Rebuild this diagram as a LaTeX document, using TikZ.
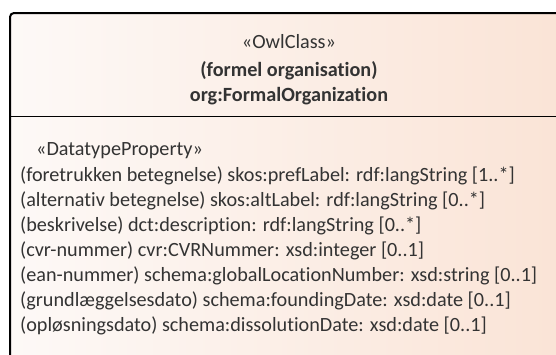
\documentclass[tikz,border=0pt]{standalone}
\usepackage{fontspec}
\setmainfont{Carlito}[Ligatures=NoCommon]
\definecolor{txt}{HTML}{333333}
\definecolor{gl}{HTML}{FDF9F7}
\definecolor{gr}{HTML}{FAE3D5}
\tikzset{
  attr/.style={anchor=base west, inner sep=0pt, text=txt, font=\fontsize{20.2}{24}\selectfont},
  head/.style={anchor=base, inner sep=0pt, text=txt, font=\fontsize{20.2}{24}\selectfont},
  headb/.style={head, font=\fontsize{20.2}{24}\selectfont\bfseries},
}
\begin{document}
\begin{tikzpicture}[x=1pt,y=-1pt]
\useasboundingbox (0,0) rectangle (556,354);
\begin{scope}
\clip (0,0) rectangle (556,354);
\shade[left color=gl, right color=gr, draw=black, line width=2pt, rounded corners=4pt]
  (10,13) rectangle (580,380);
\draw[line width=1.8pt] (10,116.5) -- (580,116.5);
\end{scope}
\node[head]  (st)  at (289,48.5) {«OwlClass»};
\node[headb] (nm)  at (289,76) {(formel organisation)};
\node[headb] (cl)  at (289,101.5) {org:FormalOrganization};
\node[attr] (dp) at (36,155.5) {«DatatypeProperty»};
\node[attr] (a1) at (20,181.5) {(foretrukken betegnelse) skos:prefLabel: rdf:langString [1..*]};
\node[attr] (a2) at (20,206.5) {(alternativ betegnelse) skos:altLabel: rdf:langString [0..*]};
\node[attr] (a3) at (20,231.5) {(beskrivelse) dct:description: rdf:langString [0..*]};
\node[attr] (a4) at (20,256.5) {(cvr-nummer) cvr:CVRNummer: xsd:integer [0..1]};
\node[attr] (a5) at (20,281.5) {(ean-nummer) schema:globalLocationNumber: xsd:string [0..1]};
\node[attr] (a6) at (20,306.5) {(grundlæggelsesdato) schema:foundingDate: xsd:date [0..1]};
\node[attr] (a7) at (20,331.5) {(opløsningsdato) schema:dissolutionDate: xsd:date [0..1]};
\end{tikzpicture}
\end{document}
